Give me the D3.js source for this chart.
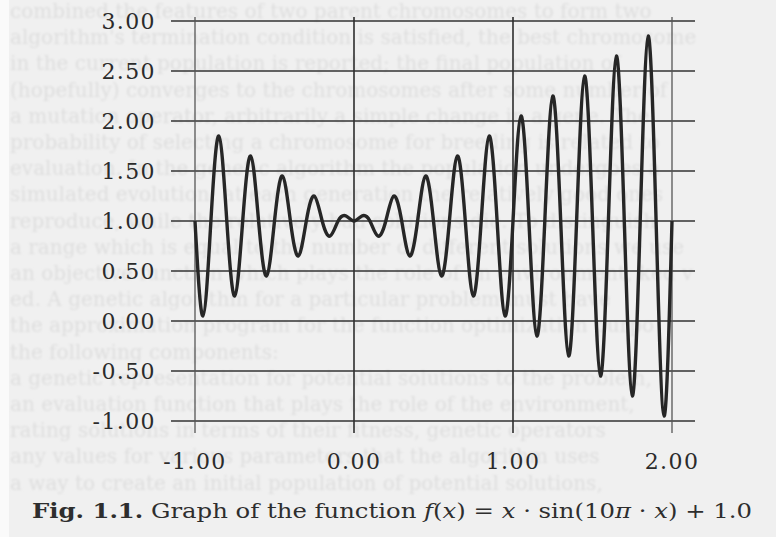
<!DOCTYPE html>
<html>
<head>
<meta charset="utf-8">
<script src="https://cdn.jsdelivr.net/npm/d3@7"></script>
<style>
  body { margin: 0; background: #f0f0f0; }
  svg { display: block; }
  .tick-label { font-family: "DejaVu Serif", serif; font-size: 22px; fill: #2b2b2b; letter-spacing: 1.4px; }
  .ghost { font-family: "DejaVu Serif", serif; font-size: 20px; fill: #dedede; }
  .caption { font-family: "DejaVu Serif", serif; font-size: 20px; fill: #2e2e2e; }
</style>
</head>
<body>
<div id="chart"></div>
<script>
// values (extrema and crossings every 0.05)
var xVals = [-1.00,-0.95,-0.90,-0.85,-0.80,-0.75,-0.70,-0.65,-0.60,-0.55,-0.50,-0.45,-0.40,-0.35,-0.30,-0.25,-0.20,-0.15,-0.10,-0.05,
             0.00,0.05,0.10,0.15,0.20,0.25,0.30,0.35,0.40,0.45,0.50,0.55,0.60,0.65,0.70,0.75,0.80,0.85,0.90,0.95,
             1.00,1.05,1.10,1.15,1.20,1.25,1.30,1.35,1.40,1.45,1.50,1.55,1.60,1.65,1.70,1.75,1.80,1.85,1.90,1.95,2.00];
var yVals = [1.00,0.05,1.00,1.85,1.00,0.25,1.00,1.65,1.00,0.45,1.00,1.45,1.00,0.65,1.00,1.25,1.00,0.85,1.00,1.05,
             1.00,1.05,1.00,0.85,1.00,1.25,1.00,0.65,1.00,1.45,1.00,0.45,1.00,1.65,1.00,0.25,1.00,1.85,1.00,0.05,
             1.00,2.05,1.00,-0.15,1.00,2.25,1.00,-0.35,1.00,2.45,1.00,-0.55,1.00,2.65,1.00,-0.75,1.00,2.85,1.00,-0.95,1.00];
var xTicks = [-1, 0, 1, 2];
var yTicks = [-1, -0.5, 0, 0.5, 1, 1.5, 2, 2.5, 3];

// faint print-through from the facing page
var ghostLines = [
  "combined the features of two parent chromosomes to form two",
  "algorithm's termination condition is satisfied, the best chromosome",
  "in the current population is reported; the final population of",
  "(hopefully) converges to the chromosomes after some number of",
  "a mutation operator, arbitrarily a simple change in a gene. The",
  "probability of selecting a chromosome for breeding is related to",
  "evaluation. In the genetic algorithm the population undergoes a",
  "simulated evolution: at each generation the relatively good ones",
  "reproduce, while the relatively bad solutions die. To distinguish",
  "a range which is equal to the number of different solutions we use",
  "an objective function which plays the role of an environment, ked v",
  "ed. A genetic algorithm for a particular problem must have",
  "the approximation program for the function optimization purpo",
  "the following components:",
  "a genetic representation for potential solutions to the problem,",
  "an evaluation function that plays the role of the environment,",
  "rating solutions in terms of their fitness, genetic operators",
  "any values for various parameters that the algorithm uses",
  "a way to create an initial population of potential solutions,"
];

var W = 776, H = 537;
var svg = d3.select("#chart").append("svg")
    .attr("width", W)
    .attr("height", H);

svg.append("rect").attr("width", W).attr("height", H).attr("fill", "#f0f0f0");
svg.append("rect").attr("width", 9).attr("height", H).attr("fill", "#fafafa");

svg.append("defs").append("filter").attr("id", "soft")
  .append("feGaussianBlur").attr("stdDeviation", 0.9);

svg.append("g").attr("filter", "url(#soft)")
  .selectAll("text")
  .data(ghostLines)
  .enter().append("text")
    .attr("class", "ghost")
    .attr("x", 10)
    .attr("y", function(d, i) { return 18 + i * 26.2; })
    .text(function(d) { return d; });

var x = d3.scaleLinear().domain([-1, 2]).range([195, 672]);
var y = d3.scaleLinear().domain([-1, 3]).range([421, 21]);

// grid
svg.append("g").selectAll("line")
  .data(yTicks)
  .enter().append("line")
    .attr("x1", x(-1) - 24).attr("x2", x(2) + 23)
    .attr("y1", function(d) { return y(d); })
    .attr("y2", function(d) { return y(d); })
    .attr("stroke", "#333").attr("stroke-width", 1.6);

svg.append("g").selectAll("line")
  .data(xTicks)
  .enter().append("line")
    .attr("x1", function(d) { return x(d); })
    .attr("x2", function(d) { return x(d); })
    .attr("y1", y(3) - 4).attr("y2", y(-1) + 12)
    .attr("stroke", function(d) { return (d == 0 || d == 1) ? "#2e2e2e" : "#555"; })
    .attr("stroke-width", function(d) { return (d == 0 || d == 1) ? 1.6 : 1.3; });

// tick labels, plain hyphen like the book
var fmt = function(v) { return d3.format(".2f")(v).replace("\u2212", "-"); };
svg.append("g").selectAll("text")
  .data(yTicks)
  .enter().append("text")
    .attr("class", "tick-label")
    .attr("x", 156)
    .attr("y", function(d) { return y(d); })
    .attr("dy", "0.36em")
    .attr("text-anchor", "end")
    .text(function(d) { return fmt(d); });

svg.append("g").selectAll("text")
  .data(xTicks)
  .enter().append("text")
    .attr("class", "tick-label")
    .attr("x", function(d) { return x(d); })
    .attr("y", 469)
    .attr("text-anchor", "middle")
    .text(function(d) { return fmt(d); });

// the curve
var pts = xVals.map(function(v, i) { return [v, yVals[i]]; });
var line = d3.line()
    .x(function(d) { return x(d[0]); })
    .y(function(d) { return y(d[1]); })
    .curve(d3.curveNatural);

svg.append("path")
  .datum(pts)
  .attr("d", line)
  .attr("fill", "none")
  .attr("stroke", "#262626")
  .attr("stroke-width", 3.4)
  .attr("stroke-linejoin", "round");

// caption
var cap = svg.append("text")
  .attr("class", "caption")
  .attr("x", 32)
  .attr("y", 518);
var parts = [
  ["Fig. 1.1.", "bold", "normal"],
  [" Graph of the function ", "normal", "normal"],
  ["f", "normal", "italic"],
  ["(", "normal", "normal"],
  ["x", "normal", "italic"],
  [") = ", "normal", "normal"],
  ["x", "normal", "italic"],
  [" \u00b7 sin(10", "normal", "normal"],
  ["\u03c0", "normal", "italic"],
  [" \u00b7 ", "normal", "normal"],
  ["x", "normal", "italic"],
  [") + 1.0", "normal", "normal"]
];
parts.forEach(function(p) {
  cap.append("tspan")
    .attr("font-weight", p[1])
    .attr("font-style", p[2])
    .text(p[0]);
});
cap.attr("textLength", 720).attr("lengthAdjust", "spacingAndGlyphs");
</script>
</body>
</html>
